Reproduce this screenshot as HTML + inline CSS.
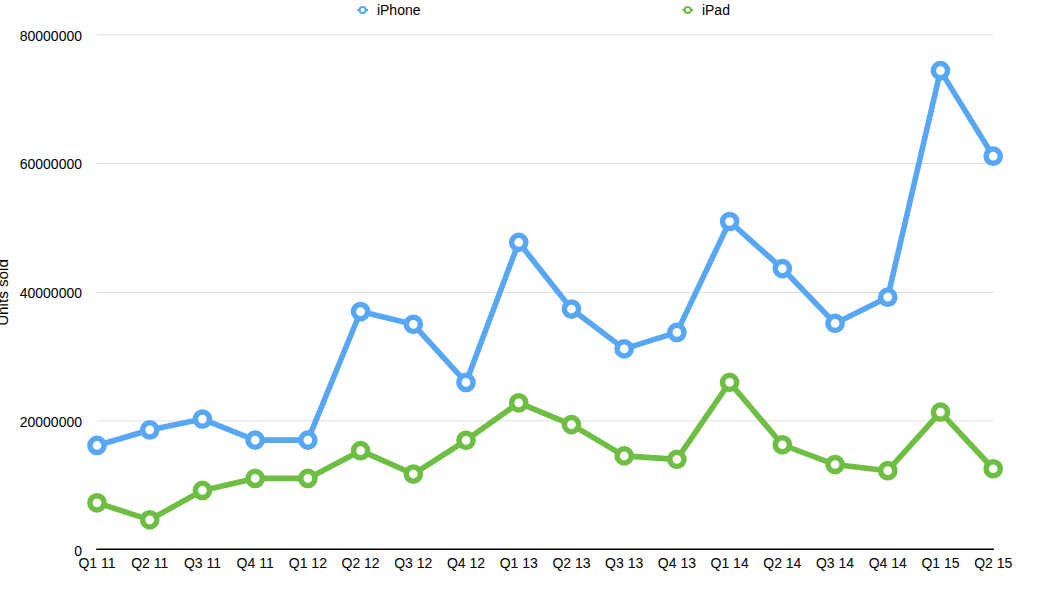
<!DOCTYPE html><html><head><meta charset="utf-8"><style>html,body{margin:0;padding:0;background:#fff}svg{display:block}text{font-family:"Liberation Sans",sans-serif;font-size:14px;fill:#000}</style></head><body>
<svg width="1050" height="600" viewBox="0 0 1050 600">
<rect width="1050" height="600" fill="#fff"/>
<line x1="97.0" y1="420.90" x2="993.2" y2="420.90" stroke="#dedede" stroke-width="1"/>
<line x1="97.0" y1="292.45" x2="993.2" y2="292.45" stroke="#dedede" stroke-width="1"/>
<line x1="97.0" y1="163.50" x2="993.2" y2="163.50" stroke="#dedede" stroke-width="1"/>
<line x1="97.0" y1="34.80" x2="993.2" y2="34.80" stroke="#dedede" stroke-width="1"/>
<line x1="96.25" y1="549.30" x2="993.95" y2="549.30" stroke="#000" stroke-width="1.5"/>
<text x="82" y="555.50" text-anchor="end">0</text>
<text x="82" y="426.75" text-anchor="end">20000000</text>
<text x="82" y="298.00" text-anchor="end">40000000</text>
<text x="82" y="169.25" text-anchor="end">60000000</text>
<text x="82" y="40.50" text-anchor="end">80000000</text>
<text x="97.00" y="567.6" text-anchor="middle">Q1 11</text>
<text x="149.72" y="567.6" text-anchor="middle">Q2 11</text>
<text x="202.44" y="567.6" text-anchor="middle">Q3 11</text>
<text x="255.15" y="567.6" text-anchor="middle">Q4 11</text>
<text x="307.87" y="567.6" text-anchor="middle">Q1 12</text>
<text x="360.59" y="567.6" text-anchor="middle">Q2 12</text>
<text x="413.31" y="567.6" text-anchor="middle">Q3 12</text>
<text x="466.02" y="567.6" text-anchor="middle">Q4 12</text>
<text x="518.74" y="567.6" text-anchor="middle">Q1 13</text>
<text x="571.46" y="567.6" text-anchor="middle">Q2 13</text>
<text x="624.18" y="567.6" text-anchor="middle">Q3 13</text>
<text x="676.89" y="567.6" text-anchor="middle">Q4 13</text>
<text x="729.61" y="567.6" text-anchor="middle">Q1 14</text>
<text x="782.33" y="567.6" text-anchor="middle">Q2 14</text>
<text x="835.05" y="567.6" text-anchor="middle">Q3 14</text>
<text x="887.76" y="567.6" text-anchor="middle">Q4 14</text>
<text x="940.48" y="567.6" text-anchor="middle">Q1 15</text>
<text x="993.20" y="567.6" text-anchor="middle">Q2 15</text>
<text transform="translate(7.6,292.5) rotate(-90)" text-anchor="middle" style="font-size:15.2px">Units sold</text>
<line x1="357.4" y1="10" x2="368.0" y2="10" stroke="#57a7f5" stroke-width="2"/>
<circle cx="362.7" cy="10" r="3.1" fill="#fff" stroke="#57a7f5" stroke-width="2"/>
<text x="376.9" y="14.8">iPhone</text>
<line x1="682.4" y1="10" x2="693.0" y2="10" stroke="#6fbe44" stroke-width="2"/>
<circle cx="687.7" cy="10" r="3.1" fill="#fff" stroke="#6fbe44" stroke-width="2"/>
<text x="701.9" y="14.8">iPad</text>
<polyline points="97.00,445.46 149.72,429.94 202.44,419.06 255.15,440.11 307.87,440.11 360.59,311.56 413.31,324.30 466.02,382.43 518.74,242.35 571.46,309.04 624.18,348.89 676.89,332.41 729.61,221.49 782.33,268.55 835.05,323.40 887.76,297.20 940.48,70.60 993.20,156.22" fill="none" stroke="#57a7f5" stroke-width="5.6" stroke-linejoin="round" stroke-linecap="round"/>
<circle cx="97.00" cy="445.46" r="7.1" fill="#fff" stroke="#57a7f5" stroke-width="5.5"/>
<circle cx="149.72" cy="429.94" r="7.1" fill="#fff" stroke="#57a7f5" stroke-width="5.5"/>
<circle cx="202.44" cy="419.06" r="7.1" fill="#fff" stroke="#57a7f5" stroke-width="5.5"/>
<circle cx="255.15" cy="440.11" r="7.1" fill="#fff" stroke="#57a7f5" stroke-width="5.5"/>
<circle cx="307.87" cy="440.11" r="7.1" fill="#fff" stroke="#57a7f5" stroke-width="5.5"/>
<circle cx="360.59" cy="311.56" r="7.1" fill="#fff" stroke="#57a7f5" stroke-width="5.5"/>
<circle cx="413.31" cy="324.30" r="7.1" fill="#fff" stroke="#57a7f5" stroke-width="5.5"/>
<circle cx="466.02" cy="382.43" r="7.1" fill="#fff" stroke="#57a7f5" stroke-width="5.5"/>
<circle cx="518.74" cy="242.35" r="7.1" fill="#fff" stroke="#57a7f5" stroke-width="5.5"/>
<circle cx="571.46" cy="309.04" r="7.1" fill="#fff" stroke="#57a7f5" stroke-width="5.5"/>
<circle cx="624.18" cy="348.89" r="7.1" fill="#fff" stroke="#57a7f5" stroke-width="5.5"/>
<circle cx="676.89" cy="332.41" r="7.1" fill="#fff" stroke="#57a7f5" stroke-width="5.5"/>
<circle cx="729.61" cy="221.49" r="7.1" fill="#fff" stroke="#57a7f5" stroke-width="5.5"/>
<circle cx="782.33" cy="268.55" r="7.1" fill="#fff" stroke="#57a7f5" stroke-width="5.5"/>
<circle cx="835.05" cy="323.40" r="7.1" fill="#fff" stroke="#57a7f5" stroke-width="5.5"/>
<circle cx="887.76" cy="297.20" r="7.1" fill="#fff" stroke="#57a7f5" stroke-width="5.5"/>
<circle cx="940.48" cy="70.60" r="7.1" fill="#fff" stroke="#57a7f5" stroke-width="5.5"/>
<circle cx="993.20" cy="156.22" r="7.1" fill="#fff" stroke="#57a7f5" stroke-width="5.5"/>
<polyline points="97.00,502.81 149.72,519.81 202.44,490.45 255.15,478.42 307.87,478.42 360.59,450.67 413.31,474.04 466.02,440.31 518.74,402.84 571.46,424.60 624.18,455.88 676.89,459.36 729.61,382.37 782.33,444.75 835.05,464.51 887.76,470.69 940.48,412.11 993.20,468.76" fill="none" stroke="#6fbe44" stroke-width="5.6" stroke-linejoin="round" stroke-linecap="round"/>
<circle cx="97.00" cy="502.81" r="7.1" fill="#fff" stroke="#6fbe44" stroke-width="5.5"/>
<circle cx="149.72" cy="519.81" r="7.1" fill="#fff" stroke="#6fbe44" stroke-width="5.5"/>
<circle cx="202.44" cy="490.45" r="7.1" fill="#fff" stroke="#6fbe44" stroke-width="5.5"/>
<circle cx="255.15" cy="478.42" r="7.1" fill="#fff" stroke="#6fbe44" stroke-width="5.5"/>
<circle cx="307.87" cy="478.42" r="7.1" fill="#fff" stroke="#6fbe44" stroke-width="5.5"/>
<circle cx="360.59" cy="450.67" r="7.1" fill="#fff" stroke="#6fbe44" stroke-width="5.5"/>
<circle cx="413.31" cy="474.04" r="7.1" fill="#fff" stroke="#6fbe44" stroke-width="5.5"/>
<circle cx="466.02" cy="440.31" r="7.1" fill="#fff" stroke="#6fbe44" stroke-width="5.5"/>
<circle cx="518.74" cy="402.84" r="7.1" fill="#fff" stroke="#6fbe44" stroke-width="5.5"/>
<circle cx="571.46" cy="424.60" r="7.1" fill="#fff" stroke="#6fbe44" stroke-width="5.5"/>
<circle cx="624.18" cy="455.88" r="7.1" fill="#fff" stroke="#6fbe44" stroke-width="5.5"/>
<circle cx="676.89" cy="459.36" r="7.1" fill="#fff" stroke="#6fbe44" stroke-width="5.5"/>
<circle cx="729.61" cy="382.37" r="7.1" fill="#fff" stroke="#6fbe44" stroke-width="5.5"/>
<circle cx="782.33" cy="444.75" r="7.1" fill="#fff" stroke="#6fbe44" stroke-width="5.5"/>
<circle cx="835.05" cy="464.51" r="7.1" fill="#fff" stroke="#6fbe44" stroke-width="5.5"/>
<circle cx="887.76" cy="470.69" r="7.1" fill="#fff" stroke="#6fbe44" stroke-width="5.5"/>
<circle cx="940.48" cy="412.11" r="7.1" fill="#fff" stroke="#6fbe44" stroke-width="5.5"/>
<circle cx="993.20" cy="468.76" r="7.1" fill="#fff" stroke="#6fbe44" stroke-width="5.5"/>
</svg></body></html>
